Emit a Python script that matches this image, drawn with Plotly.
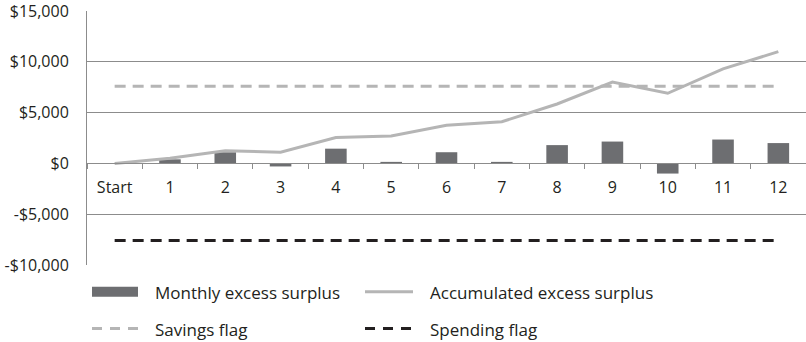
import plotly.graph_objects as go

categories = ["Start", "1", "2", "3", "4", "5", "6", "7", "8", "9", "10", "11", "12"]
monthly_excess = [0, 400, 1100, -300, 1450, 150, 1100, 150, 1800, 2150, -1000, 2350, 2000]
accumulated_excess = [0, 500, 1250, 1100, 2550, 2700, 3750, 4100, 5850, 8000, 6900, 9300, 11000]
savings_flag = 7600
spending_flag = -7600
y_tickvals = [15000, 10000, 5000, 0, -5000, -10000]
y_ticktext = ["$15,000", "$10,000", "$5,000", "$0", "-$5,000", "-$10,000"]
legend_labels = ["Monthly excess surplus", "Accumulated excess surplus", "Savings flag", "Spending flag"]

W, H = 806, 342
ML, MR, MT, MB = 87, 0, 9, 77
PW, PH = W - ML - MR, H - MT - MB

BAR_C = "#6d6e71"
ACC_C = "#b5b5b5"
SAV_C = "#b5b5b5"
SPD_C = "#231f20"
GRID_C = "#8c8c8c"
FONT = "Open Sans"

def px_x(px):
    return (px - ML) / PW

def px_y(py):
    return (H - MB - py) / PH

fig = go.Figure()
fig.add_trace(go.Bar(x=categories, y=monthly_excess, marker=dict(color=BAR_C, line=dict(width=0)),
                     name=legend_labels[0], showlegend=False))
fig.add_trace(go.Scatter(x=categories, y=accumulated_excess, mode="lines",
                         line=dict(color=ACC_C, width=3), name=legend_labels[1], showlegend=False))
fig.add_trace(go.Scatter(x=[categories[0], categories[-1]], y=[savings_flag, savings_flag], mode="lines",
                         line=dict(color=SAV_C, width=3, dash="11px,7px"), name=legend_labels[2], showlegend=False))
fig.add_trace(go.Scatter(x=[categories[0], categories[-1]], y=[spending_flag, spending_flag], mode="lines",
                         line=dict(color=SPD_C, width=3, dash="11px,7px"), name=legend_labels[3], showlegend=False))

# custom legend (swatches + text)
shapes = []
annotations = []
rows = [292, 329]
cols = [(92, 138, 153), (365, 413, 428)]
styles = ["bar", "line", "sav", "spd"]
for i, lab in enumerate(legend_labels):
    r, c = divmod(i, 2)
    x0, x1, tx = cols[c]
    yc = rows[r]
    st = styles[i]
    if st == "bar":
        shapes.append(dict(type="rect", xref="paper", yref="paper", x0=px_x(x0), x1=px_x(x1),
                           y0=px_y(yc + 5), y1=px_y(yc - 5), fillcolor=BAR_C, line=dict(width=0)))
    else:
        color = {"line": ACC_C, "sav": SAV_C, "spd": SPD_C}[st]
        dash = "solid" if st == "line" else "10px,8px"
        shapes.append(dict(type="line", xref="paper", yref="paper", x0=px_x(x0), x1=px_x(x1),
                           y0=px_y(yc), y1=px_y(yc), line=dict(color=color, width=3, dash=dash)))
    annotations.append(dict(text=lab, xref="paper", yref="paper", x=px_x(tx), y=px_y(yc + 1),
                            xanchor="left", yanchor="middle", showarrow=False,
                            font=dict(family=FONT, size=17, color="#231f20")))

fig.update_layout(
    width=W, height=H,
    margin=dict(l=ML, r=MR, t=MT, b=MB),
    plot_bgcolor="white", paper_bgcolor="white",
    bargap=0.61,
    showlegend=False,
    font=dict(family=FONT, size=16, color="#231f20"),
    shapes=shapes,
    annotations=annotations,
    xaxis=dict(
        type="category", range=[-0.5, len(categories) - 0.5],
        anchor="free", position=10000 / 25000,
        showline=True, linecolor=GRID_C, linewidth=1,
        ticks="outside", tickson="boundaries", ticklen=5, tickcolor=GRID_C, tickwidth=1,
        ticklabelstandoff=9,
        showgrid=False, zeroline=False,
        tickfont=dict(family=FONT, size=16, color="#231f20"),
    ),
    yaxis=dict(
        range=[-10000, 15000.5],
        tickvals=y_tickvals, ticktext=y_ticktext,
        showline=True, linecolor=GRID_C, linewidth=1,
        showgrid=True, gridcolor=GRID_C, gridwidth=1,
        zeroline=False, ticks="", ticklabelstandoff=14,
        ticklabeloverflow="allow",
        tickfont=dict(family=FONT, size=16, color="#231f20"),
    ),
)

fig.write_html("out.html")
